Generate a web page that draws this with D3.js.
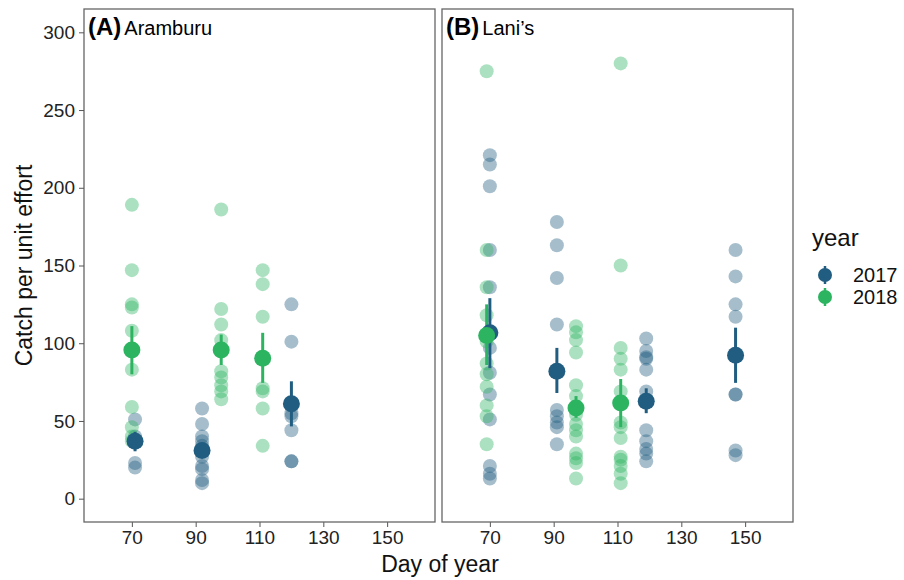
<!DOCTYPE html>
<html>
<head>
<meta charset="utf-8">
<script src="https://cdn.jsdelivr.net/npm/d3@7"></script>
<style>
	body { margin: 0; background: #fff; }
	#chart { width: 904px; height: 580px; }
	text { font-family: "Liberation Sans", Arial, sans-serif; }
</style>
</head>
<body>
<div id="chart"></div>
<script>
"use strict"

// values: catch per unit effort by day of year
const years = ["2017", "2018"];
const yearColors = ["#215d80", "#2db461"];
const sites = ["Aramburu", "Lani\u2019s"];
const panelTags = ["(A)", "(B)"];
const xTicks = [70, 90, 110, 130, 150];
const yTicks = [0, 50, 100, 150, 200, 250, 300];

// Aramburu
const aramburuDays2017 = [71, 92, 120];
const aramburuCatch2017 = [
	[51, 40, 23, 20],
	[58, 48, 40, 37, 34, 27, 21, 19, 12, 10],
	[125, 101, 60, 55, 53, 44, 24, 24]
];
const aramburuMean2017 = [37, 31, 61];
const aramburuLow2017 = [30.5, 27, 46.5];
const aramburuHigh2017 = [43, 35, 75.5];

const aramburuDays2018 = [70, 98, 111];
const aramburuCatch2018 = [
	[189, 147, 125, 123, 108, 83, 59, 46, 40, 37],
	[186, 122, 112, 102, 82, 78, 73, 69, 64],
	[147, 138, 117, 71, 69, 58, 34]
];
const aramburuMean2018 = [95.7, 95.7, 90.3];
const aramburuLow2018 = [80, 86, 74.5];
const aramburuHigh2018 = [111, 105.6, 106.7];

// Lani's
const lanisDays2017 = [70, 91, 119, 147];
const lanisCatch2017 = [
	[221, 215, 201, 160, 136, 107, 97, 81, 67, 51, 21, 16, 13],
	[178, 163, 142, 112, 57, 53, 49, 46, 35],
	[103, 95, 91, 90, 83, 69, 63, 44, 37, 32, 29, 24],
	[160, 143, 125, 117, 67, 67, 31, 28]
];
const lanisMean2017 = [106.7, 82, 62.7, 92.3];
const lanisLow2017 = [84, 68, 55, 74.5];
const lanisHigh2017 = [129, 97, 71, 110];

const lanisDays2018 = [69, 97, 111];
const lanisCatch2018 = [
	[275, 160, 136, 118, 101, 87, 80, 72, 60, 53, 35],
	[111, 107, 102, 94, 73, 66, 54, 48, 44, 40, 29, 26, 23, 13],
	[280, 150, 97, 90, 83, 69, 49, 46, 39, 27, 25, 21, 16, 10]
];
const lanisMean2018 = [105, 58.4, 61.6];
const lanisLow2018 = [86, 52, 46];
const lanisHigh2018 = [125, 66, 77];

function buildGroups(year, days, catches, means, lows, highs) {
	return days.map((d, i) => ({year: year, day: d, values: catches[i], mean: means[i], lo: lows[i], hi: highs[i]}));
}

let panelData = [
	[].concat(
		buildGroups("2017", aramburuDays2017, aramburuCatch2017, aramburuMean2017, aramburuLow2017, aramburuHigh2017),
		buildGroups("2018", aramburuDays2018, aramburuCatch2018, aramburuMean2018, aramburuLow2018, aramburuHigh2018)),
	[].concat(
		buildGroups("2017", lanisDays2017, lanisCatch2017, lanisMean2017, lanisLow2017, lanisHigh2017),
		buildGroups("2018", lanisDays2018, lanisCatch2018, lanisMean2018, lanisLow2018, lanisHigh2018))
];

let CatchView = function(targetID) {
	let self = {
		targetSvg: null,
		panelLeft: [84, 442],
		panelWidth: 351,
		top: 9,
		bottom: 522,
		xScale: d3.scaleLinear().domain([55, 165]),
		yScale: d3.scaleLinear().domain([-15, 315]),
		color: d3.scaleOrdinal().domain(years).range(yearColors),
	}

	function draw() {
		self.targetSvg = d3.select(targetID).append("svg")
			.attr("width", 904)
			.attr("height", 580);

		self.xScale.range([0, self.panelWidth]);
		self.yScale.range([self.bottom, self.top]);

		panelData.forEach((groups, p) => drawPanel(groups, p));

		// y axis on the first panel only
		let yAxis = d3.axisLeft(self.yScale).tickValues(yTicks).tickSize(5).tickPadding(4);
		let yG = self.targetSvg.append("g")
			.attr("transform", `translate(${self.panelLeft[0]},0)`)
			.call(yAxis);
		styleAxis(yG);

		self.targetSvg.append("text")
			.attr("transform", `translate(32, ${(self.top + self.bottom) / 2})rotate(-90)`)
			.attr("text-anchor", "middle")
			.style("font-size", "23px")
			.style("fill", "#111")
			.text("Catch per unit effort");

		self.targetSvg.append("text")
			.attr("x", 440)
			.attr("y", 572)
			.attr("text-anchor", "middle")
			.style("font-size", "23px")
			.style("fill", "#111")
			.text("Day of year");

		drawLegend();
	}

	function drawPanel(groups, p) {
		let g = self.targetSvg.append("g")
			.attr("transform", `translate(${self.panelLeft[p]},0)`);

		let xAxis = d3.axisBottom(self.xScale).tickValues(xTicks).tickSize(5).tickPadding(4);
		let xG = g.append("g")
			.attr("transform", `translate(0,${self.bottom})`)
			.call(xAxis);
		styleAxis(xG);

		let raw = [];
		groups.forEach(gr => gr.values.forEach(v => raw.push({year: gr.year, day: gr.day, value: v})));

		g.append("g").selectAll("circle")
			.data(raw)
			.enter().append("circle")
				.attr("cx", d => self.xScale(d.day))
				.attr("cy", d => self.yScale(d.value))
				.attr("r", 7)
				.style("fill", d => self.color(d.year))
				.style("fill-opacity", 0.4)
				.style("stroke", "none");

		g.append("g").selectAll("line")
			.data(groups)
			.enter().append("line")
				.attr("x1", d => self.xScale(d.day))
				.attr("x2", d => self.xScale(d.day))
				.attr("y1", d => self.yScale(d.lo))
				.attr("y2", d => self.yScale(d.hi))
				.style("stroke", d => self.color(d.year))
				.style("stroke-width", 3);

		g.append("g").selectAll("circle")
			.data(groups)
			.enter().append("circle")
				.attr("cx", d => self.xScale(d.day))
				.attr("cy", d => self.yScale(d.mean))
				.attr("r", 8.5)
				.style("fill", d => self.color(d.year));

		g.append("rect")
			.attr("x", 0)
			.attr("y", self.top)
			.attr("width", self.panelWidth)
			.attr("height", self.bottom - self.top)
			.style("fill", "none")
			.style("stroke", "#666")
			.style("stroke-width", 1.3);

		let label = g.append("text")
			.attr("x", 4)
			.attr("y", 35)
			.style("fill", "#000");
		label.append("tspan")
			.style("font-size", "24px")
			.style("font-weight", "bold")
			.text(panelTags[p]);
		label.append("tspan")
			.attr("dx", 3)
			.style("font-size", "20px")
			.text(sites[p]);
	}

	function drawLegend() {
		let lg = self.targetSvg.append("g").attr("class", "legend");
		lg.append("text")
			.attr("x", 812)
			.attr("y", 246)
			.style("font-size", "24px")
			.style("fill", "#111")
			.text("year");

		let keys = lg.selectAll(".key")
			.data(years)
			.enter().append("g")
				.attr("class", "key")
				.attr("transform", (d, i) => `translate(825, ${275 + i * 22})`);
		keys.append("line")
			.attr("y1", -9)
			.attr("y2", 9)
			.style("stroke", d => self.color(d))
			.style("stroke-width", 2.5);
		keys.append("circle")
			.attr("r", 7)
			.style("fill", d => self.color(d));
		keys.append("text")
			.attr("x", 28)
			.attr("y", 7)
			.style("font-size", "20px")
			.style("fill", "#111")
			.text(d => d);
	}

	function styleAxis(axisG) {
		axisG.select(".domain").remove();
		axisG.selectAll(".tick line").style("stroke", "#555");
		axisG.selectAll(".tick text")
			.style("font-size", "19px")
			.style("fill", "#222")
			.style("font-family", "'Liberation Sans', Arial, sans-serif");
	}

	return {
		draw,
	};
}

CatchView("#chart").draw();
</script>
</body>
</html>
